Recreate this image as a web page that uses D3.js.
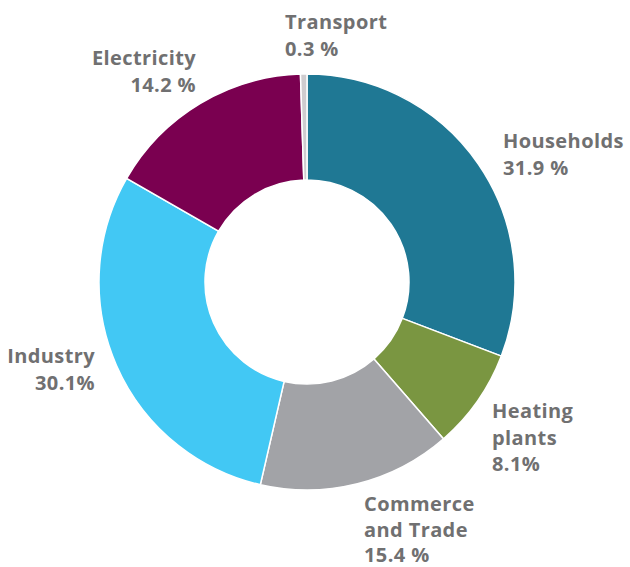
<!DOCTYPE html>
<html><head><meta charset="utf-8">
<script src="https://cdn.jsdelivr.net/npm/d3@7"></script>
<style>
html,body{margin:0;padding:0;background:#fff;}
text{font-family:"Open Sans",sans-serif;font-weight:700;fill:#707071;}
</style></head>
<body>
<svg id="chart" width="630" height="567"></svg>
<script>
const categories = ["Households","Heating plants","Commerce and Trade","Industry","Electricity","Transport"];
// slice sizes as drawn in the picture (measured angles)
const values = [30.8, 7.8, 15.0, 29.7, 16.2, 0.5];
// printed labels
const valueLabels = ["31.9 %","8.1%","15.4 %","30.1%","14.2 %","0.3 %"];
const colors = ["#1f7894","#7a9641","#a2a3a7","#42c8f4","#7a0050","#cfcccf"];
const labelLines = [["Households"],["Heating","plants"],["Commerce","and Trade"],["Industry"],["Electricity"],["Transport"]];

const svg = d3.select("#chart");
const cx = 307, cy = 282, rOuter = 208, rInner = 102;
const g = svg.append("g").attr("transform", `translate(${cx},${cy})`);

const pie = d3.pie().value(d => d.v).sort(null);
const arc = d3.arc().innerRadius(rInner).outerRadius(rOuter);
const data = categories.map((c,i)=>({c, v: values[i], i}));

g.selectAll("path").data(pie(data)).join("path")
  .attr("d", arc)
  .attr("fill", d => colors[d.data.i])
  .attr("stroke", "#fff")
  .attr("stroke-width", 1.5);

const labelPos = [
  {x:503, y:148, a:"start", lh:26.5},
  {x:492, y:418, a:"start", lh:26.5},
  {x:364, y:511, a:"start", lh:25.5},
  {x:95,  y:363, a:"end", lh:27},
  {x:196, y:65,  a:"end", lh:26.5},
  {x:285, y:29,  a:"start", lh:26.5}
];
data.forEach((d,i) => {
  const p = labelPos[i];
  const lines = labelLines[i].concat([valueLabels[i]]);
  const t = svg.append("text").attr("text-anchor", p.a).attr("font-size", 20)
    .attr("letter-spacing", 0.4);
  lines.forEach((l,k) => {
    t.append("tspan").attr("x", p.x).attr("y", p.y + k*p.lh).text(l);
  });
});
</script>
</body></html>
